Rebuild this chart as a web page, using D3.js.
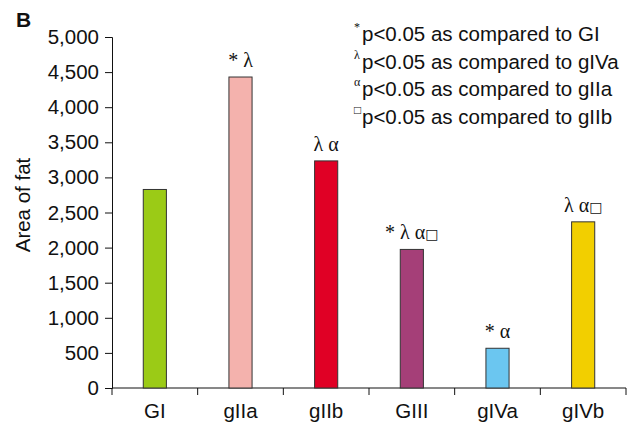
<!DOCTYPE html>
<html>
<head>
<meta charset="utf-8">
<script src="https://cdn.jsdelivr.net/npm/d3@7"></script>
<style>
  body { margin: 0; background: #fff; }
  text { font-family: Arial, "Liberation Sans", sans-serif; fill: #111; }
  .sym { font-family: "Liberation Serif", "DejaVu Serif", serif; }
</style>
</head>
<body>
<svg width="636" height="425" id="mainsvg"></svg>
<script>
const groups = ['GI', 'gIIa', 'gIIb', 'GIII', 'gIVa', 'gIVb'];
const fatArea = [2828, 4430, 3235, 1974, 566, 2367];
// significance marks above each bar; a trailing flag draws the small square
const marks = ['', '* \u03bb', '\u03bb \u03b1', '* \u03bb \u03b1', '* \u03b1', '\u03bb \u03b1'];
const squareFlag = [false, false, false, true, false, true];
const barColors = ['#9bcb16', '#f4b2ad', '#e00025', '#a53f78', '#6bc6f0', '#f2cf00'];
const yTicks = [0, 500, 1000, 1500, 2000, 2500, 3000, 3500, 4000, 4500, 5000];
const legendSyms = ['*', '\u03bb', '\u03b1', '\u25a1'];
const legendText = ['p<0.05 as compared to GI', 'p<0.05 as compared to gIVa',
                    'p<0.05 as compared to gIIa', 'p<0.05 as compared to gIIb'];

const svg = d3.select('svg');
const plotL = 112, plotR = 626, plotT = 37, plotB = 388;
const fs = 20.5;

const x = d3.scaleBand().domain(groups).range([plotL, plotR])
  .paddingInner(0.73).paddingOuter(0.365);
const y = d3.scaleLinear().domain([0, 5000]).range([plotB, plotT]);

// y axis
const yAxis = svg.append('g').attr('transform', `translate(${plotL},0)`)
  .call(d3.axisLeft(y).tickValues(yTicks).tickFormat(d3.format(',')).tickSize(7).tickPadding(6));
yAxis.select('.domain').attr('stroke', '#111');
yAxis.selectAll('.tick line').attr('stroke', '#111');
yAxis.selectAll('text').attr('font-size', fs)
  .attr('font-family', 'Arial, "Liberation Sans", sans-serif').attr('fill', '#111');

// x axis, ticks sit between the groups
const bounds = d3.range(groups.length + 1).map(i => plotL + i * x.step());
svg.append('line').attr('x1', plotL).attr('x2', plotR).attr('y1', plotB).attr('y2', plotB)
  .attr('stroke', '#111');
svg.selectAll('.xt').data(bounds).join('line').attr('class', 'xt')
  .attr('x1', d => d).attr('x2', d => d).attr('y1', plotB).attr('y2', plotB + 7)
  .attr('stroke', '#111');
svg.selectAll('.xl').data(groups).join('text').attr('class', 'xl')
  .attr('x', d => x(d) + x.bandwidth() / 2).attr('y', 418)
  .attr('text-anchor', 'middle').attr('font-size', fs).text(d => d);

// bars
svg.selectAll('.bar').data(groups).join('rect').attr('class', 'bar')
  .attr('x', d => x(d)).attr('width', x.bandwidth())
  .attr('y', (d, i) => y(fatArea[i])).attr('height', (d, i) => plotB - y(fatArea[i]))
  .attr('fill', (d, i) => barColors[i]).attr('stroke', '#333').attr('stroke-width', 1);

// significance marks
const mk = svg.selectAll('.mk').data(groups).join('text').attr('class', 'mk sym')
  .attr('x', d => x(d) + x.bandwidth() / 2).attr('y', (d, i) => y(fatArea[i]) - 10)
  .attr('text-anchor', 'middle').attr('font-size', 20);
mk.append('tspan').text((d, i) => marks[i]);
mk.filter((d, i) => squareFlag[i]).append('tspan')
  .attr('font-family', '"DejaVu Sans", sans-serif').attr('font-size', 14).text('\u25a1');

// y label
svg.append('text').attr('transform', 'translate(30,205) rotate(-90)')
  .attr('text-anchor', 'middle').attr('font-size', fs).text('Area of fat');

// panel letter
svg.append('text').attr('x', 16).attr('y', 27).attr('font-size', 21)
  .attr('font-weight', 'bold').text('B');

// legend
const lg = svg.append('g');
legendText.forEach((t, i) => {
  const yy = 41 + i * 27.7;
  lg.append('text').attr('class', 'sym').attr('x', 354).attr('y', yy - 10)
    .attr('font-size', 12).text(legendSyms[i]);
  lg.append('text').attr('x', 362).attr('y', yy).attr('font-size', fs).text(t);
});
</script>
</body>
</html>
